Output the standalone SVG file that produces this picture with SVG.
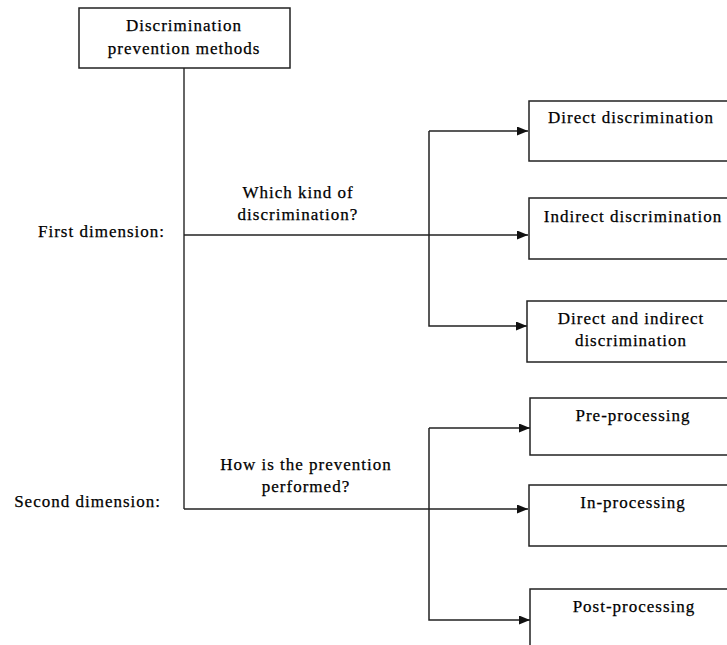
<svg xmlns="http://www.w3.org/2000/svg" width="727" height="645" viewBox="0 0 727 645">
<style>
text{font-family:"Liberation Serif","Times New Roman",serif;font-size:17px;letter-spacing:1px;fill:#000;stroke:#000;stroke-width:0.25}
.c{text-anchor:middle}
.r{text-anchor:end}
.box{fill:#fff;stroke:#222;stroke-width:1.5}
.ln{fill:none;stroke:#222;stroke-width:1.5}
.main{fill:none;stroke:#666;stroke-width:2}
</style>
<defs>
<marker id="ah" viewBox="0 0 11 9" refX="11" refY="4.5" markerWidth="11" markerHeight="9" markerUnits="userSpaceOnUse" orient="auto">
<path d="M0,0 L11,4.5 L0,9 Z" fill="#111"/>
</marker>
</defs>
<rect width="727" height="645" fill="#fff"/>
<g id="connectors">
<path class="main" d="M184,68 V509"/>
<path class="ln" d="M184,509 H528" marker-end="url(#ah)"/>
<path class="ln" d="M184,235 H528" marker-end="url(#ah)"/>
<path class="ln" d="M429,131 V326 H527" marker-end="url(#ah)"/>
<path class="ln" d="M429,131 H528" marker-end="url(#ah)"/>
<path class="ln" d="M429,428 V620 H530" marker-end="url(#ah)"/>
<path class="ln" d="M429,428 H530" marker-end="url(#ah)"/>
</g>
<g id="root">
<rect class="box" x="79" y="8" width="211" height="60"/>
<text class="c" x="184" y="31">Discrimination</text>
<text class="c" x="184" y="54">prevention methods</text>
</g>
<g id="dim1">
<text class="r" x="165" y="237">First dimension:</text>
<text class="c" x="298" y="198">Which kind of</text>
<text class="c" x="298" y="220">discrimination?</text>
</g>
<g id="dim2">
<text class="r" x="161" y="507">Second dimension:</text>
<text class="c" x="306" y="470">How is the prevention</text>
<text class="c" x="306" y="492">performed?</text>
</g>
<g id="direct">
<rect class="box" x="529" y="101" width="210" height="60"/>
<text class="c" x="631" y="123">Direct discrimination</text>
</g>
<g id="indirect">
<rect class="box" x="529" y="198" width="210" height="61"/>
<text class="c" x="633" y="222">Indirect discrimination</text>
</g>
<g id="both">
<rect class="box" x="527" y="301" width="212" height="61"/>
<text class="c" x="631" y="324">Direct and indirect</text>
<text class="c" x="631" y="346">discrimination</text>
</g>
<g id="pre">
<rect class="box" x="530" y="398" width="210" height="57"/>
<text class="c" x="633" y="421">Pre-processing</text>
</g>
<g id="in">
<rect class="box" x="529" y="485" width="210" height="61"/>
<text class="c" x="633" y="508">In-processing</text>
</g>
<g id="post">
<rect class="box" x="530" y="589" width="210" height="70"/>
<text class="c" x="634" y="612">Post-processing</text>
</g>
</svg>
